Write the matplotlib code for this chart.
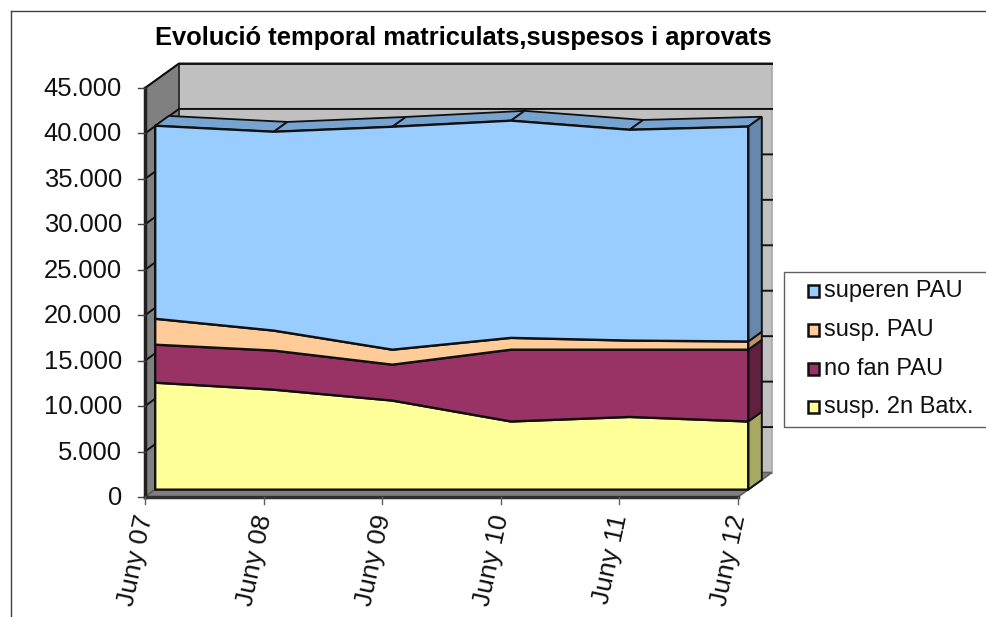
import numpy as np
import matplotlib
matplotlib.use('Agg')
import matplotlib.pyplot as plt
from matplotlib.patches import Polygon, Rectangle

plt.rcParams['font.family'] = ['Liberation Sans', 'DejaVu Sans']

# Dades
cursos = ['Juny 07', 'Juny 08', 'Juny 09', 'Juny 10', 'Juny 11', 'Juny 12']
susp_batx = [11770, 11000, 9800, 7500, 8000, 7500]
no_fan = [4180, 4300, 3950, 7900, 7400, 7900]
susp_pau = [2850, 2200, 1650, 1300, 1000, 900]
superen = [21240, 21880, 24530, 23900, 23200, 23650]
noms = ['susp. 2n Batx.', 'no fan PAU', 'susp. PAU', 'superen PAU']
marques_y = [0, 5000, 10000, 15000, 20000, 25000, 30000, 35000, 40000, 45000]
etiquetes_y = ['0', '5.000', '10.000', '15.000', '20.000', '25.000', '30.000', '35.000', '40.000', '45.000']

# Colors
colors = ['#FFFF99', '#993366', '#FFCC99', '#99CCFF']
colors_costat = ['#A8A866', '#602040', '#B89468', '#6688AA']
color_tapa = '#76A3CF'

# Geometria de la perspectiva (pixels)
X0, X1, Y0 = 145, 738, 497
ESCALA = 409 / 45000
DX, DY = 34, -24.5
S_FRONT, S_BACK = 0.30, 0.70
n = len(cursos)


def punt(i, v, prof=0.0):
    """categoria i, valor v, profunditat 0-1 -> pixel"""
    x = X0 + i * (X1 - X0) / (n - 1)
    y = Y0 - v * ESCALA
    return x + DX * prof, y + DY * prof


fig = plt.figure(figsize=(9.87, 6.17), dpi=100)
ax = fig.add_axes([0, 0, 1, 1])
ax.set_xlim(0, 987)
ax.set_ylim(617, 0)
ax.axis('off')

# Marc exterior
ax.plot([11, 11], [617, 11], color='#404040', lw=1)
ax.plot([11, 987], [11, 11], color='#404040', lw=1)

# Parets
vmax = marques_y[-1]
paret = [punt(0, 0, 1), punt(0, vmax, 1), punt(n - 1, vmax, 1), punt(n - 1, 0, 1)]
ax.add_patch(Polygon(paret, fc='#C0C0C0', ec='#A8A8A8', lw=1.2, zorder=1))
sostre = [punt(0, vmax, 1), punt(n - 1, vmax, 1)]
ax.plot(*zip(*sostre), color='#202020', lw=1.4, zorder=2)
esq = [punt(0, 0), punt(0, vmax), punt(0, vmax, 1), punt(0, 0, 1)]
ax.add_patch(Polygon(esq, fc='#808080', ec='#202020', lw=1.2, zorder=1))
terra = [punt(0, 0), punt(n - 1, 0), punt(n - 1, 0, 1), punt(0, 0, 1)]
ax.add_patch(Polygon(terra, fc='#808080', ec='#606060', lw=1.2, zorder=1))

# Graella
for v in marques_y[1:]:
    a, b, c = punt(0, v), punt(0, v, 1), punt(n - 1, v, 1)
    ax.plot([a[0], b[0], c[0]], [a[1], b[1], c[1]], color='#101010', lw=1.4, zorder=2)

# Eixos i etiquetes
ax.plot([X0, X0], [Y0, Y0 - vmax * ESCALA], color='#202020', lw=2.5, zorder=3)
ax.plot([X0, X1], [Y0, Y0], color='#303030', lw=2.5, zorder=3)
for v, et in zip(marques_y, etiquetes_y):
    x, y = punt(0, v)
    ax.plot([x - 7, x], [y, y], color='#404040', lw=1, zorder=3)
    ax.text(x - 23, y + 1, et, ha='right', va='center', fontsize=18.4, color='#111111')
for i, et in enumerate(cursos):
    x, y = punt(i, 0)
    ax.plot([x, x], [y, y + 7], color='#606060', lw=1, zorder=3)
    ax.text(x + 1, y + 18, et, rotation=78, rotation_mode='anchor', ha='right', va='center',
            fontsize=19, color='#111111')

# Arees apilades
valors = np.array([susp_batx, no_fan, susp_pau, superen], dtype=float)
acum = np.cumsum(valors, axis=0)
idx = np.arange(n)

for s in range(4):
    base = acum[s - 1] if s > 0 else np.zeros(n)
    dalt = acum[s]
    davant = [punt(i, dalt[i], S_FRONT) for i in idx] + [punt(i, base[i], S_FRONT) for i in idx[::-1]]
    ax.add_patch(Polygon(davant, fc=colors[s], ec='#101010', lw=1.7, zorder=6, joinstyle='round'))
    costat = [punt(n - 1, base[-1], S_FRONT), punt(n - 1, dalt[-1], S_FRONT),
              punt(n - 1, dalt[-1], S_BACK), punt(n - 1, base[-1], S_BACK)]
    ax.add_patch(Polygon(costat, fc=colors_costat[s], ec='#101010', lw=1.4, zorder=5))

# Tapa superior
dalt = acum[-1]
for i in range(n - 1):
    tapa = [punt(i, dalt[i], S_FRONT), punt(i + 1, dalt[i + 1], S_FRONT),
            punt(i + 1, dalt[i + 1], S_BACK), punt(i, dalt[i], S_BACK)]
    ax.add_patch(Polygon(tapa, fc=color_tapa, ec='#101010', lw=1.3, zorder=4))

# Titol
ax.text(463, 38.5, 'Evolució temporal matriculats,suspesos i aprovats', ha='center', va='center',
        fontsize=18.4, fontweight='bold', color='black')

# Llegenda
ax.add_patch(Rectangle((783.5, 271.5), 204, 155, fc='white', ec='#606060', lw=1, zorder=7))
pos_y = [407, 369, 330, 291]
for s in range(4):
    ax.add_patch(Rectangle((807.5, pos_y[s] - 6), 11, 12, fc=colors[s], ec='#101010', lw=1.8, zorder=8))
    ax.text(824, pos_y[s], noms[s], ha='left', va='center', fontsize=17, color='#111111', zorder=8)

fig.savefig('out.png', dpi=100)
